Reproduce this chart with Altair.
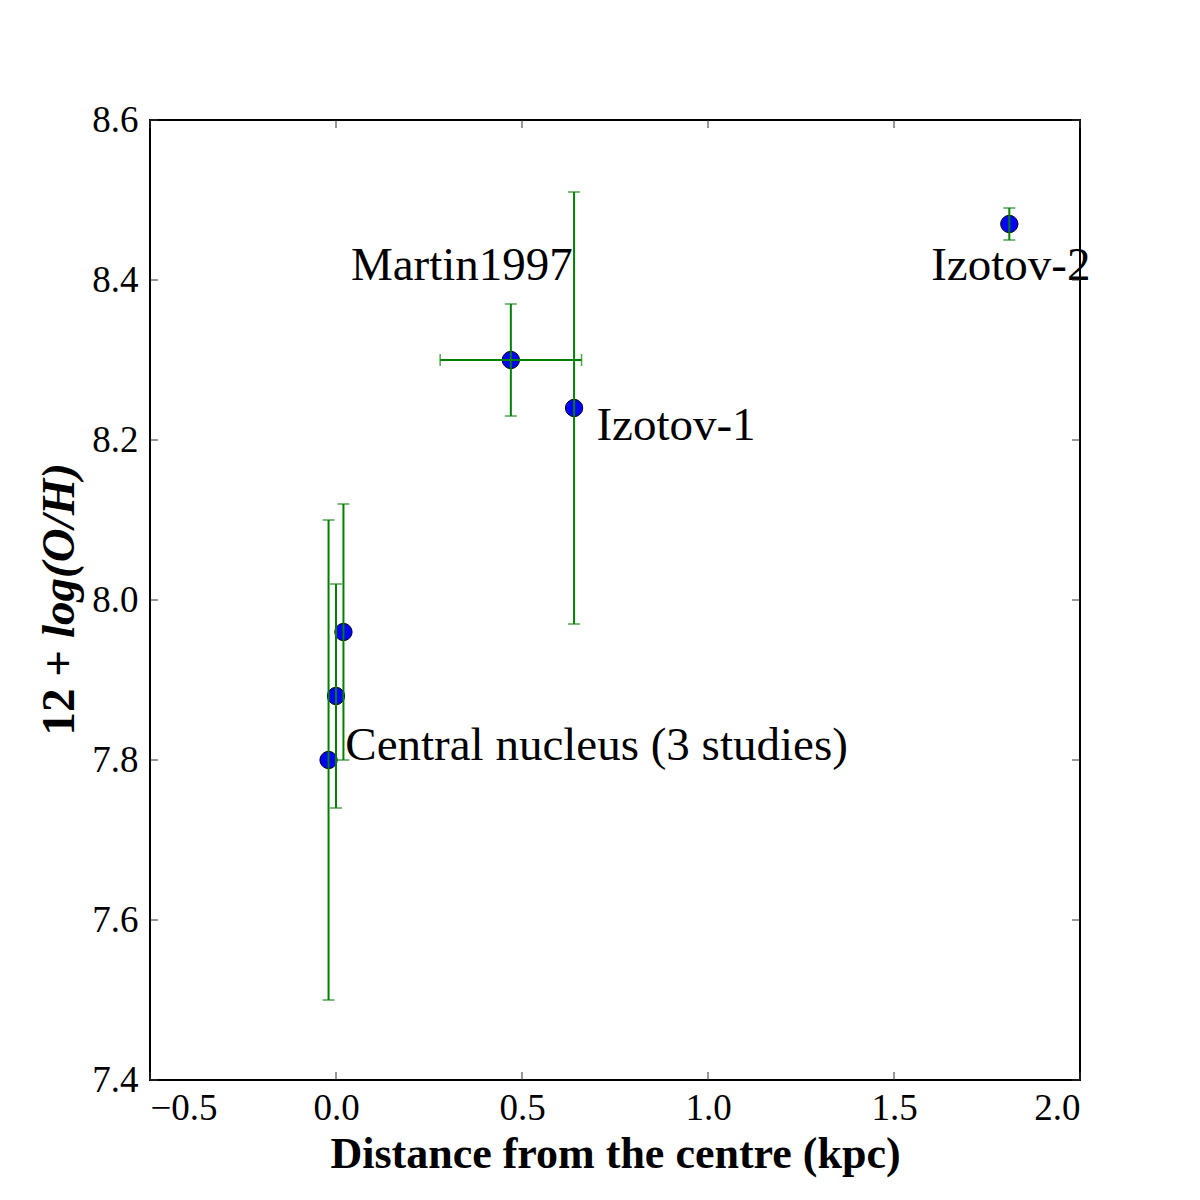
import altair as alt
import pandas as pd

# Oxygen abundance measurements versus galactocentric distance
dist_kpc = [-0.02, 0.00, 0.02, 0.47, 0.64, 1.81]
abundance = [7.80, 7.88, 7.96, 8.30, 8.24, 8.47]
abund_lo = [7.50, 7.74, 7.80, 8.23, 7.97, 8.45]
abund_hi = [8.10, 8.02, 8.12, 8.37, 8.51, 8.49]

# Horizontal error for the Martin (1997) region
xerr_y = [8.30]
xerr_lo = [0.28]
xerr_hi = [0.66]

# Annotation texts and their anchor points (data units)
label_text = ["Martin1997", "Izotov-1", "Izotov-2", "Central nucleus (3 studies)"]
label_x = [0.04, 0.70, 1.60, 0.025]
label_y = [8.40, 8.20, 8.40, 7.80]

x_ticks = [-0.5, 0.0, 0.5, 1.0, 1.5, 2.0]
y_ticks = [7.4, 7.6, 7.8, 8.0, 8.2, 8.4, 8.6]

W, H = 930, 960
SERIF = "Liberation Serif"
GREEN = "#008000"

pts = pd.DataFrame({"x": dist_kpc, "y": abundance, "lo": abund_lo, "hi": abund_hi})
xerr = pd.DataFrame({"y": xerr_y, "lo": xerr_lo, "hi": xerr_hi})
labels = pd.DataFrame({"text": label_text, "x": label_x, "y": label_y})
xt = pd.DataFrame({"v": x_ticks})
yt = pd.DataFrame({"v": y_ticks})

xs = alt.Scale(domain=[-0.5, 2.0], nice=False, zero=False)
ys = alt.Scale(domain=[7.4, 8.6], nice=False, zero=False)

x_axis = alt.Axis(
    values=x_ticks, format=".1f", title="Distance from the centre (kpc)",
    domain=False, ticks=False, grid=False,
    labelFont=SERIF, labelFontSize=37, labelColor="black", labelPadding=10,
    titleFont=SERIF, titleFontSize=44, titleFontWeight="bold", titleColor="black",
    titlePadding=6,
)
y_axis = alt.Axis(
    values=y_ticks, format=".1f", title=None,
    domain=False, ticks=False, grid=False,
    labelFont=SERIF, labelFontSize=37, labelColor="black", labelPadding=12,
)

base = alt.Chart(pts)

points = base.mark_point(
    filled=True, shape="circle", size=300, fill="#0000ff", stroke="black",
    strokeWidth=1, opacity=1,
).encode(
    x=alt.X("x:Q", scale=xs, axis=x_axis),
    y=alt.Y("y:Q", scale=ys, axis=y_axis),
)

ybars = base.mark_rule(color=GREEN, strokeWidth=2).encode(
    x=alt.X("x:Q", scale=xs), y=alt.Y("lo:Q", scale=ys), y2="hi:Q"
)
ycap_lo = base.mark_tick(color=GREEN, orient="horizontal", size=12, thickness=1.5).encode(
    x=alt.X("x:Q", scale=xs), y=alt.Y("lo:Q", scale=ys)
)
ycap_hi = base.mark_tick(color=GREEN, orient="horizontal", size=12, thickness=1.5).encode(
    x=alt.X("x:Q", scale=xs), y=alt.Y("hi:Q", scale=ys)
)

xe = alt.Chart(xerr)
xbar = xe.mark_rule(color=GREEN, strokeWidth=2).encode(
    x=alt.X("lo:Q", scale=xs), x2="hi:Q", y=alt.Y("y:Q", scale=ys)
)
xcap_lo = xe.mark_tick(color=GREEN, orient="vertical", size=12, thickness=1.5).encode(
    x=alt.X("lo:Q", scale=xs), y=alt.Y("y:Q", scale=ys)
)
xcap_hi = xe.mark_tick(color=GREEN, orient="vertical", size=12, thickness=1.5).encode(
    x=alt.X("hi:Q", scale=xs), y=alt.Y("y:Q", scale=ys)
)

notes = alt.Chart(labels).mark_text(
    font=SERIF, fontSize=47, align="left", baseline="alphabetic", color="black"
).encode(
    x=alt.X("x:Q", scale=xs), y=alt.Y("y:Q", scale=ys), text="text:N"
)

# Inward-pointing ticks on all four sides of the frame
TL = 8
tick_style = dict(color="#333333", strokeWidth=1)
xt_bottom = alt.Chart(xt).mark_rule(**tick_style).encode(
    x=alt.X("v:Q", scale=xs), y=alt.value(H), y2=alt.value(H - TL)
)
xt_top = alt.Chart(xt).mark_rule(**tick_style).encode(
    x=alt.X("v:Q", scale=xs), y=alt.value(0), y2=alt.value(TL)
)
yt_left = alt.Chart(yt).mark_rule(**tick_style).encode(
    y=alt.Y("v:Q", scale=ys), x=alt.value(0), x2=alt.value(TL)
)
yt_right = alt.Chart(yt).mark_rule(**tick_style).encode(
    y=alt.Y("v:Q", scale=ys), x=alt.value(W), x2=alt.value(W - TL)
)

# Y-axis title: upright bold "12 +" followed by bold italic "log(O/H)"
ytitle_a = alt.Chart(pd.DataFrame({"t": ["12 +"]})).mark_text(
    font=SERIF, fontSize=47, fontWeight="bold", angle=270,
    align="right", baseline="alphabetic", color="black",
).encode(text="t:N", x=alt.value(-76), y=alt.value(530))
ytitle_b = alt.Chart(pd.DataFrame({"t": ["log(O/H)"]})).mark_text(
    font=SERIF, fontSize=47, fontWeight="bold", fontStyle="italic", angle=270,
    align="left", baseline="alphabetic", color="black",
).encode(text="t:N", x=alt.value(-76), y=alt.value(518))

chart = alt.layer(
    points, ybars, ycap_lo, ycap_hi, xbar, xcap_lo, xcap_hi, notes,
    xt_bottom, xt_top, yt_left, yt_right, ytitle_a, ytitle_b,
).properties(
    width=W, height=H,
    autosize=alt.AutoSizeParams(type="none"),
    padding={"left": 150, "top": 120, "right": 120, "bottom": 120},
    background="white",
).configure_view(
    stroke="black", strokeWidth=2
)

chart.save("out.html", embed_options={"renderer": "svg", "actions": False})
